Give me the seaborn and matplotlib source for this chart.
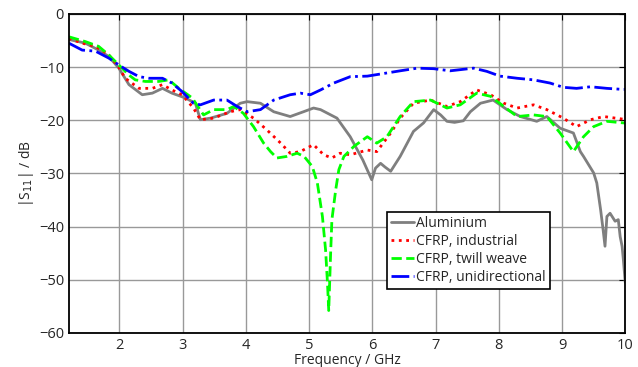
# Reflexion |S11| - 4 plaques
import numpy as np
import pandas as pd
import matplotlib.pyplot as plt
import seaborn as sns

# Données (GHz, dB)
alu_f = [1.2, 1.46, 1.67, 1.83, 1.99, 2.15, 2.36, 2.52, 2.68, 2.83, 3.04, 3.2, 3.28, 3.44, 3.7, 3.91,
         4.02, 4.23, 4.44, 4.7, 4.91, 5.07, 5.18, 5.44, 5.65, 5.85, 5.99, 6.05, 6.13, 6.2, 6.29, 6.44,
         6.65, 6.81, 6.97, 7.08, 7.18, 7.3, 7.44, 7.55, 7.71, 7.91, 8.13, 8.34, 8.6, 8.76, 8.97,
         9.18, 9.29, 9.34, 9.5, 9.55, 9.61, 9.65, 9.68, 9.71, 9.76, 9.84, 9.89, 9.92, 9.95, 9.97, 10.0]
alu_db = [-4.8, -5.5, -6.8, -8.0, -10.2, -13.3, -15.2, -14.9, -14.0, -14.9, -15.8, -16.8, -19.9, -19.6,
          -18.7, -16.8, -16.5, -16.8, -18.4, -19.3, -18.4, -17.7, -18.0, -19.6, -23.1, -27.5, -31.2,
          -29.0, -28.1, -28.8, -29.6, -26.8, -22.1, -20.5, -18.0, -19.0, -20.2, -20.4, -20.1, -18.4,
          -16.8, -16.2, -18.0, -19.3, -20.2, -19.3, -21.5, -22.4, -25.9, -26.8, -29.9, -31.8, -36.8,
          -40.6, -43.7, -38.1, -37.5, -39.0, -38.7, -41.9, -43.7, -46.2, -50.5]

ind_f = [1.2, 1.41, 1.62, 1.83, 1.99, 2.09, 2.31, 2.52, 2.68, 2.83, 2.99, 3.17, 3.28, 3.49, 3.75, 3.91,
         4.12, 4.33, 4.55, 4.7, 4.86, 4.97, 5.07, 5.23, 5.36, 5.49, 5.65, 5.92, 6.07, 6.29, 6.44, 6.65,
         6.92, 7.18, 7.39, 7.65, 7.87, 8.08, 8.29, 8.55, 8.76, 9.02, 9.23, 9.45, 9.66, 9.97, 10.0]
ind_db = [-4.6, -5.5, -6.1, -7.7, -10.0, -12.1, -14.0, -14.0, -13.3, -14.3, -15.2, -17.7, -19.9, -19.6,
          -18.4, -18.0, -19.6, -21.8, -24.3, -26.2, -25.9, -25.2, -24.6, -26.5, -27.1, -26.2, -26.5,
          -25.6, -25.9, -22.4, -19.6, -16.8, -16.2, -17.4, -16.5, -14.3, -15.2, -16.8, -17.7, -17.1,
          -18.0, -19.6, -21.2, -19.9, -19.3, -19.8, -19.8]

twill_f = [1.2, 1.46, 1.67, 1.83, 1.99, 2.15, 2.25, 2.41, 2.62, 2.78, 2.94, 3.15, 3.33, 3.49, 3.7, 3.81,
           3.96, 4.12, 4.28, 4.39, 4.49, 4.65, 4.81, 4.92, 5.05, 5.13, 5.21, 5.26, 5.29, 5.31, 5.34,
           5.36, 5.42, 5.47, 5.55, 5.71, 5.92, 6.07, 6.23, 6.44, 6.65, 6.92, 7.18, 7.39, 7.65, 7.87,
           8.08, 8.29, 8.55, 8.76, 8.97, 9.18, 9.34, 9.5, 9.71, 9.97, 10.0]
twill_db = [-4.3, -5.2, -6.1, -7.7, -9.6, -11.5, -12.4, -12.7, -12.7, -12.4, -14.0, -15.8, -19.0, -18.0,
            -18.0, -17.4, -18.7, -21.2, -24.3, -25.9, -27.1, -26.8, -26.2, -26.8, -28.7, -31.8, -38.1,
            -44.4, -50.6, -55.8, -45.0, -38.7, -33.1, -29.3, -26.8, -24.9, -23.1, -24.3, -23.1, -19.3,
            -16.5, -16.2, -17.7, -17.1, -14.9, -15.5, -17.4, -19.3, -19.0, -19.3, -22.4, -25.9, -23.1,
            -21.2, -20.2, -20.5, -20.5]

uni_f = [1.2, 1.41, 1.62, 1.83, 1.99, 2.15, 2.31, 2.47, 2.68, 2.83, 2.99, 3.17, 3.28, 3.49, 3.7, 3.86,
         4.02, 4.23, 4.44, 4.7, 4.86, 5.02, 5.18, 5.39, 5.65, 5.92, 6.18, 6.44, 6.71, 6.97, 7.23, 7.6,
         7.81, 8.02, 8.29, 8.55, 8.81, 9.02, 9.23, 9.45, 9.71, 9.97, 10.0]
uni_db = [-5.5, -6.8, -7.0, -8.3, -9.6, -10.8, -11.8, -12.1, -12.1, -13.0, -14.6, -16.8, -17.1, -16.2,
          -16.2, -17.4, -18.4, -18.0, -16.2, -15.2, -14.9, -15.2, -14.3, -13.0, -11.8, -11.7, -11.2,
          -10.7, -10.2, -10.3, -10.7, -10.2, -10.8, -11.7, -12.1, -12.4, -13.0, -13.8, -14.0, -13.7,
          -14.0, -14.2, -14.2]

noms = ["Aluminium", "CFRP, industrial", "CFRP, twill weave", "CFRP, unidirectional"]
couleurs = ["#7f7f7f", "#ff0000", "#00ff00", "#0000ff"]
styles = ["-", ":", "--", "-."]

sns.set_style("white")
plt.rcParams['font.family'] = ['Open Sans', 'DejaVu Sans']

fig = plt.figure(figsize=(6.38, 3.67), dpi=100)
ax = fig.add_axes([0.108, 0.093, 0.872, 0.869])

series = [(alu_f, alu_db), (ind_f, ind_db), (twill_f, twill_db), (uni_f, uni_db)]
for (f, db), nom, c, ls in zip(series, noms, couleurs, styles):
    sns.lineplot(x=f, y=db, ax=ax, color=c, linestyle=ls, linewidth=2, label=nom, sort=False)

ax.set_xlim(1.2, 10)
ax.set_ylim(-60, 0)
ax.set_xticks(range(2, 11))
ax.set_yticks(range(-60, 1, 10))
ax.grid(True, color="#999999", linewidth=1)
ax.tick_params(direction="in", top=True, right=True, length=4, labelsize=10.5, color="black")
for s in ax.spines.values():
    s.set_color("black")
    s.set_linewidth(1.3)

ax.set_xlabel("Frequency / GHz", fontsize=10, labelpad=0)
ax.set_ylabel("|S$_{11}$| / dB", fontsize=10, labelpad=2)

leg = ax.legend(loc="lower left", bbox_to_anchor=(0.572, 0.138), fontsize=10, frameon=True,
                fancybox=False, edgecolor="black", framealpha=1, handlelength=1.6,
                handletextpad=0.2, borderpad=0.3, labelspacing=0.2, borderaxespad=0)
leg.get_frame().set_linewidth(1.2)

plt.savefig("out.png", dpi=100)
plt.close()
